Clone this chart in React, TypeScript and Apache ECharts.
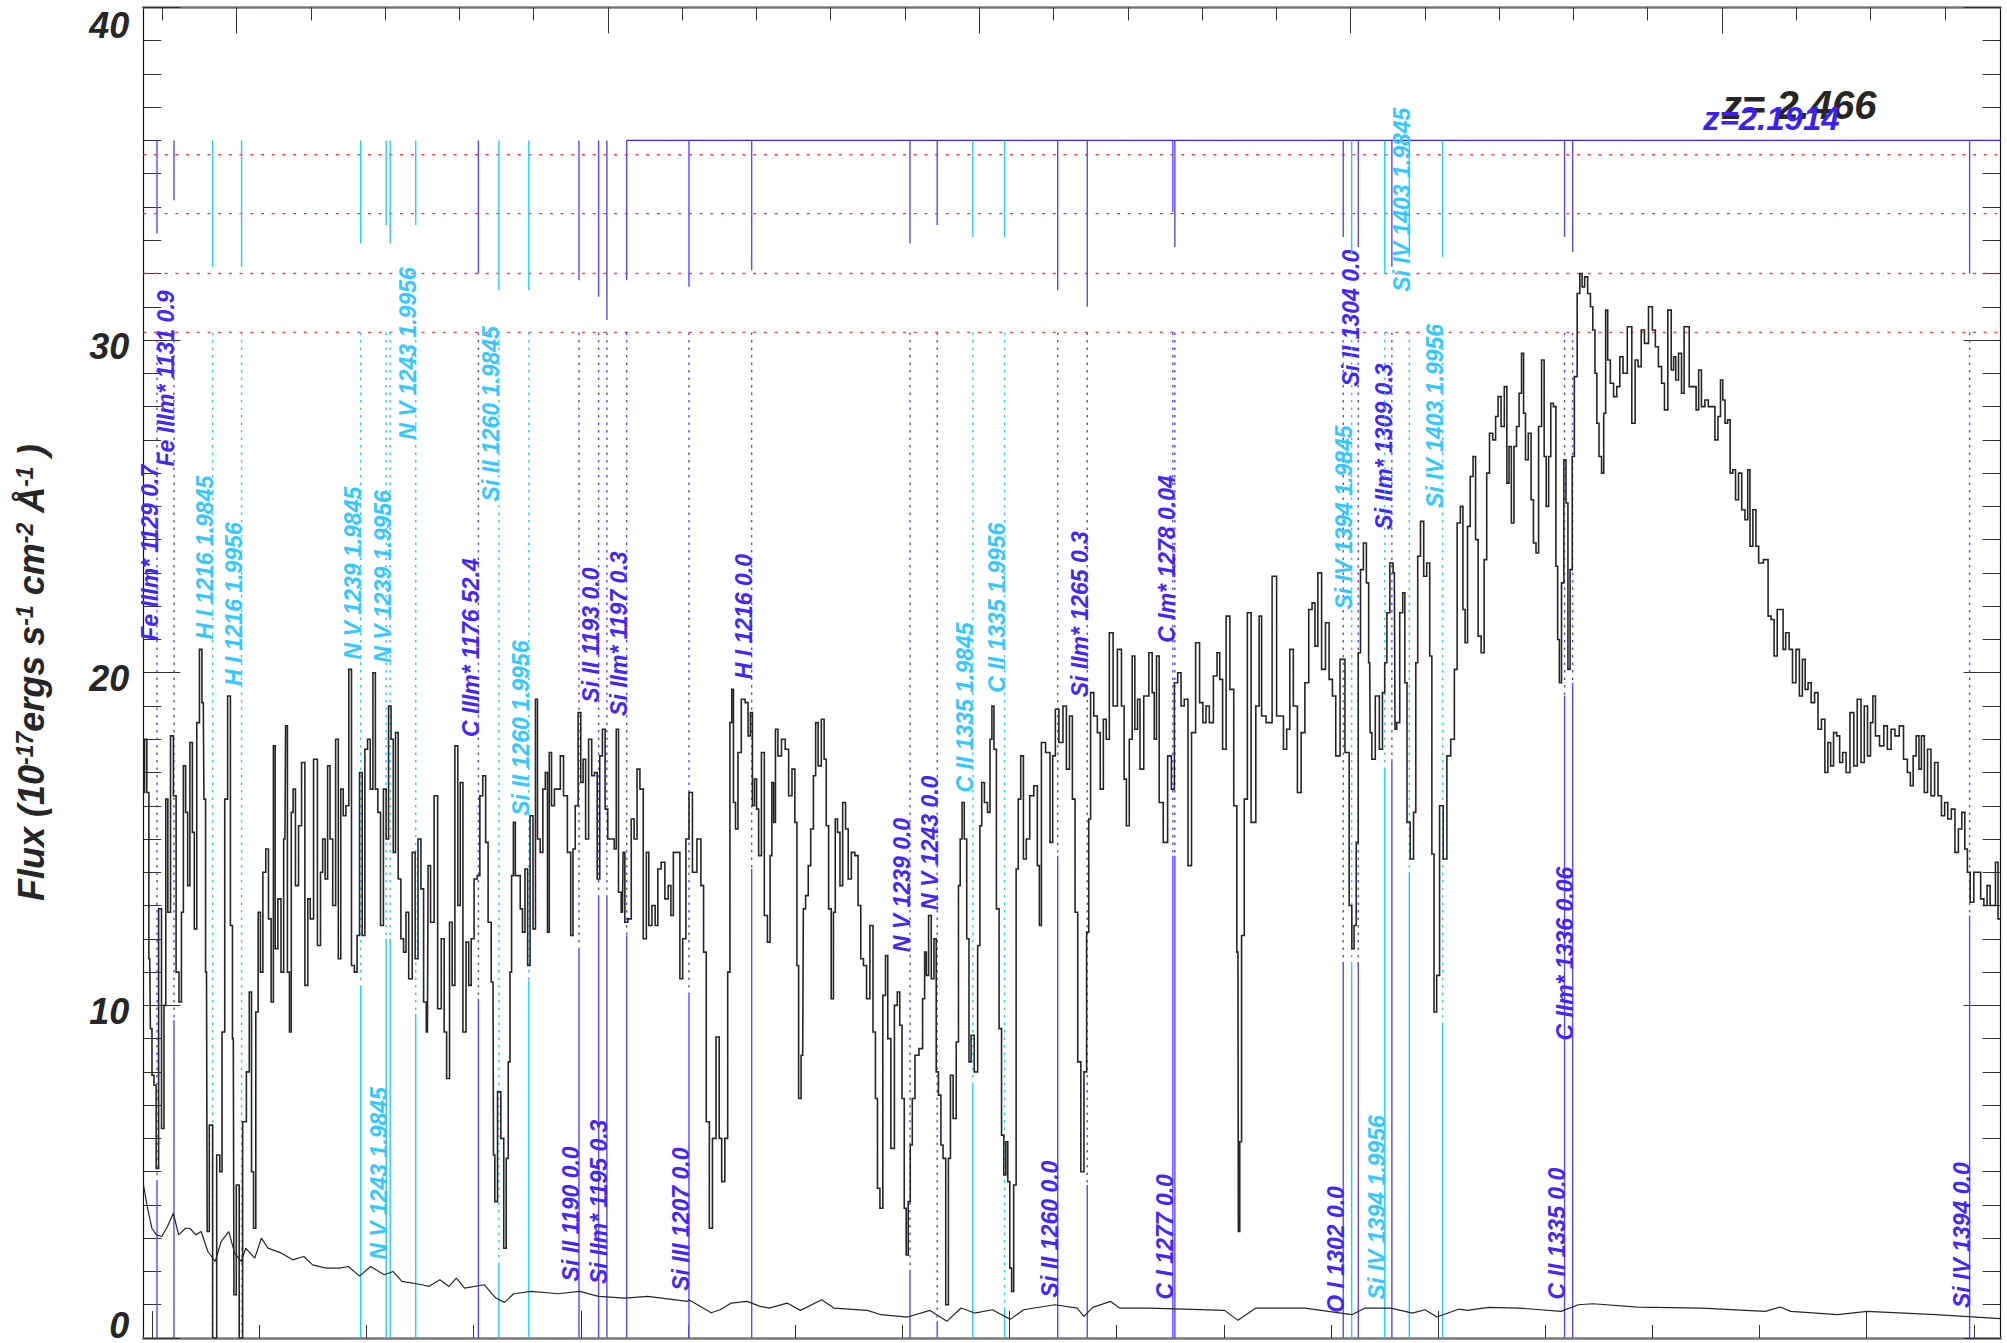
import React, { useEffect, useRef } from "react";
import * as echarts from "echarts";

const zBlue = 2.1914;
const zQso = 2.466;
const waveMin = 3595.8;
const waveMax = 4462.5;

const yTicks = [0, 10, 20, 30, 40];
const obsMajor = [3600, 3800, 4000, 4200, 4400];
const obsMinor = [3650, 3700, 3750, 3850, 3900, 3950, 4050, 4100, 4150, 4250, 4300, 4350, 4450];
const restMajor = [1050, 1100, 1150, 1200, 1250];
const restMinor = [1040, 1060, 1070, 1080, 1090, 1110, 1120, 1130, 1140, 1160, 1170, 1180, 1190, 1210, 1220, 1230, 1240, 1260, 1270, 1280];
const redLevels = [35.57, 33.8, 32.0, 30.23];
const topLevel = 36;

// [wavelength (A), flux]
const fluxA: number[][] = [
  [3595.9,16.4],[3596.9,18],[3598,16.4],[3598.8,11.4],[3599.4,9.3],[3600.3,7.9],[3601.3,7.6],[3602.3,5.1],[3603.6,12.9],[3605,6.3],[3605.9,10],[3606.7,16.2],[3607.8,12.8],[3609.2,18.1],[3610.5,16.3],[3611.7,11],[3613.2,10.1],[3614,12.8],[3615,17.2],[3616.1,15.8],[3616.9,13.6],[3618.2,17.9],[3619.2,15.2],[3620,12.3],[3621.5,18.5],[3622.5,20.7],[3623.8,19.1],[3624.4,16.2],[3625.3,11],[3625.9,3.2],[3627.3,6.4],[3629,0],[3631.1,5.5],[3631.9,5],[3633.2,9.2],[3634.4,16.2],[3635.9,19.3],[3637,12.4],[3637.8,9],[3638.4,1.3],[3640,4.6],[3641.1,0],[3643.2,6.5],[3644.6,8],[3645.9,10.4],[3646.7,5],[3647.8,3.3],[3648.8,9.8],[3650,12.8],[3650.9,11],[3652.3,14],[3653.6,14.7],[3654.8,12.6],[3656.1,10.1],[3656.9,17.8],[3657.8,11.7],[3659.4,13.2],[3660.7,11],[3661.9,15],[3662.5,18.4],[3663.6,11],[3664.4,9.2],[3665.3,15.8],[3666.1,16.5],[3667.5,13.6],[3669,15.4],[3670.3,17.3],[3672.1,10.6],[3673,13.2],[3674.4,12.6],[3676.1,17.4],[3678,11.8],[3679,14],[3680,15],[3681.3,13.8],[3682.3,17.2],[3683.6,15],[3684.8,13],[3686.3,18],[3687.3,11.4],[3688.6,16.5],[3689.6,15.7],[3691.1,16],[3692.3,20.1],[3693.6,11.2],[3695,11],[3696.1,12.1],[3697.3,17],[3698.6,12.1],[3699.8,17.7],[3701.1,18],[3702.3,16.5],[3703.6,20],[3704.6,16.5],[3705.9,15.8],[3707.1,12.4],[3708.6,16.5],[3709.6,15],[3710.9,19],[3711.9,18],[3713,14.6],[3714,18.2],[3715.5,13.8],[3716.5,12],[3718,11.6],[3718.8,12.8],[3720.5,10.8],[3722.1,14.6],[3723.2,11.4],[3724.8,15],[3725.9,13.5],[3727.3,10.1],[3728.4,9.2],[3729,14.2],[3730.7,12.5],[3732.3,16.3],[3734,9.9],[3735.7,12],[3736.7,9.2],[3738,7.8],[3739.4,12.5],[3740.5,10.6],[3741.9,17.8],[3743.2,13],[3744.2,16.7],[3745.7,9.2],[3747.1,11.9],[3748.2,10.6],[3749.4,12],[3750.9,13.8],[3752.3,13.9],[3753.4,16.3],[3755,16.9],[3756.1,14.9],[3757.3,12.5],[3759,10.7],[3759.4,5.5],[3760.3,4.1],[3761.9,7.4],[3763.4,6],[3764.6,2.7],[3765.7,5.4],[3766.5,8.3],[3767.3,11],[3768,13.9],[3769,15.5],[3769.8,13.9],[3771.1,13.9],[3772.3,12.9],[3773.2,12.2],[3774.6,14.1],[3775.7,11.2],[3776.9,15.7],[3778.4,12.3],[3779.2,19.2],[3780.3,15],[3781.7,14.6],[3782.8,16.5],[3784,17],[3784.8,12.2],[3785.7,17.6],[3786.9,16],[3788.4,16.5],[3789.8,16.5],[3791,17.5],[3792.8,16.3],[3794.6,14.6],[3795.9,12.1],[3796.7,14.7],[3798,16],[3799.4,18.8],[3800.5,16.7],[3801.6,17.4],[3802.8,15],[3804.4,18],[3805.7,16.9],[3807,17],[3808.2,13.8],[3809.4,17.5],[3810.7,18.3],[3811.9,15.9],[3813.2,15],[3815,15],[3816.1,14.7],[3816.9,18.3],[3818.2,13.4],[3819.4,12.8],[3820,14.6],[3821,12.5],[3822.8,12.6],[3824.2,15.6],[3825.5,15],[3826.9,17.1],[3828.2,16.5],[3830,12],[3831.1,14.6],[3832.3,12.4],[3834,13],[3835.3,12.4],[3836.5,14.1],[3838.4,14.3],[3840,13.2],[3841.5,13.6],[3842.5,12.7],[3843.8,14.6],[3845.7,14.6],[3846.7,10.8],
];
const fluxB: number[][] = [
  [3848.3,12],[3849.7,15],[3851.2,16.4],[3852.9,14],[3855.4,15],[3856.6,13.6],[3857.9,11.6],[3859.1,6.5],[3860.8,3.3],[3862,6],[3864.1,9.05],[3865,6],[3866.4,4.7],[3867.9,6],[3869.1,11],[3870,18.5],[3870.8,19.5],[3871.6,16.1],[3872.7,15.3],[3873.9,17.6],[3875.8,19.2],[3877.5,19.1],[3878.5,18.1],[3879.7,18.8],[3880.4,16],[3881.6,16.8],[3882.4,15.9],[3883.5,14.5],[3885,17.6],[3886.2,12.7],[3887.9,11.9],[3888.7,14.5],[3889.5,16.7],[3890.4,15.5],[3891.2,18.3],[3892.7,17.5],[3894.5,18],[3896.2,17.7],[3897.7,16.3],[3899.3,17.1],[3900.4,15.5],[3901.2,11.2],[3902,7.2],[3903.5,8.5],[3904.1,12.9],[3905.6,13.3],[3906.6,14.2],[3907.9,15.3],[3909.1,16.9],[3910,18.5],[3911.4,17.2],[3913,18.6],[3914,17.4],[3915,15.4],[3916.2,12.9],[3917.4,10.2],[3918.3,12.8],[3919.1,15.6],[3920.4,15.2],[3921.4,13.6],[3922.9,16.1],[3924.1,15.3],[3925.4,13.8],[3927,14.6],[3928.7,14.5],[3930,13],[3931.2,11.4],[3932.5,11.2],[3934.1,10.2],[3935.6,12.4],[3937,9.2],[3937.9,7.2],[3938.9,4.5],[3940.2,3.9],[3941.6,10.3],[3942.7,11.5],[3943.7,9],[3945.6,5.7],[3947,10],[3948.3,10.4],[3949.3,9.4],[3950.4,7.2],[3951.4,3.9],[3952.2,2.5],[3953.3,4.1],[3954.1,5.8],[3955.2,7.2],[3956.6,8.5],[3958.9,8.7],[3960,10.2],[3960.8,11.6],[3961.6,10.9],[3962.9,12.7],[3964.1,10.8],[3965.4,12],[3966.2,8],[3967.5,7.3],[3968.5,5.8],[3969.5,5.4],[3971,1],[3972,5.4],[3972.9,7.9],[3974.5,6.6],[3975.8,8.9],[3976.6,13.6],[3977.4,15],[3978.3,16.1],[3979.5,15],[3980.6,12],[3981.6,8.3],[3982.6,9.1],[3984.5,8],[3985.8,11.8],[3986.6,15.4],[3987.5,16.7],[3989.1,16.1],[3990.4,15.8],[3991.4,18],[3992.2,19],[3993.3,17.7],[3994.5,12.9],[3995.8,9.3],[3996.8,6.1],[3997.9,4.9],[3998.7,5.9],[3999.7,4.7],[4000.6,2.1],[4001.4,1.4],[4002.5,4.6],[4003.7,14.1],[4004.5,16.2],[4006,17.5],[4007,14.4],[4008.7,15],[4010.2,16.3],[4012.5,16.6],[4013.5,14.2],[4014.4,12.4],[4015.4,17.9],[4018.3,17.6],[4019.5,14.9],[4020.8,17.5],[4022,18.9],[4024.1,17.9],[4025.8,19],[4027.3,17.1],[4028.7,18.7],[4030,16.2],[4031.2,12.8],[4032.5,8.3],[4034.1,5],[4035.4,8],[4036.6,12.2],[4037.4,15.6],[4038.3,19.4],[4040.4,18.7],[4041.6,18.2],[4043.1,16.5],[4044.5,18.6],[4045.8,18],[4047.4,21.2],
  [4049.3,19],[4051.4,20.7],[4053.1,19],[4053.9,16.8],[4055.2,15.4],[4056.6,18],[4057.9,20.5],[4059.1,18.3],[4060.4,19.2],[4061.4,17.1],[4063.9,19.3],[4066.2,20.6],[4067,19.4],[4068.1,18],[4069.1,20.5],[4070.6,16.1],[4072.9,14.9],[4074.7,17.5],[4076.4,16.5],[4077.5,19.7],[4079.5,20],[4080.6,19],[4082.5,19.2],[4084.1,14.2],[4085.8,18.2],[4087.9,20.9],[4089.5,19.1],[4091,18.5],[4092.4,19],[4094.1,18.5],[4096.2,19.9],[4097.5,20.6],[4098.7,19.8],[4100.2,17.7],[4102,21.7],[4103.7,19.5],[4105.6,16],[4106.6,11.6],[4107,3.2],[4107.9,5.9],[4108.7,12.1],[4110.4,16.2],[4111.6,21.8],[4113.9,15.5],[4116,19],[4117,21.7],[4118.3,18.7],[4121.2,18.5],[4123.9,22.9],[4125.4,18.7],[4127,18.7],[4128.7,17.7],[4130,18.3],[4131.6,20.7],[4133.3,19],[4135.4,16.4],[4136.8,18.2],[4138.9,19.7],[4140.4,21.9],[4142,22.1],[4143.1,20.8],[4144.7,23],[4146.6,20.1],[4148.3,21.5],[4150,19.8],[4151.4,19.3],[4153.1,17.5],[4155.4,20.4],[4157.7,17.6],[4159.3,13],[4160.2,11.7],[4161.4,12.4],[4162.2,14.9],[4163.3,20.6],[4164.3,23.1],[4166,23.9],
];
const fluxC: number[][] = [
  [4167.1,22.7],[4168.1,20.3],[4168.5,18.2],[4169.7,17.4],[4171.7,19.3],[4173.5,17.7],[4174.6,19.4],[4175.6,20.3],[4176.6,21.8],[4178.4,23.3],[4179.6,23],[4180.2,18.3],[4181.2,18.5],[4183,21.8],[4184,22.4],[4185,19.7],[4186,15.5],[4188,14.4],[4189.1,15.8],[4190.1,20.3],[4190.9,23.5],[4192.7,24.55],[4193.9,22.9],[4195.5,23.3],[4196.7,20.5],[4197.5,14.55],[4198.7,9.8],[4200,10.9],[4201.4,16],[4203.4,14.4],[4204.8,17.5],[4207,18],[4208.2,20.1],[4209.6,24.5],[4211.2,25],[4212,21.9],[4213.2,20.9],[4214.3,24.4],[4215.7,25.9],[4216.9,26.5],[4218.1,24],[4219.3,21.1],[4220.9,20.6],[4222.1,23.4],[4223.3,26],[4224.7,27.2],[4226.3,27],[4227.4,27.7],[4228.6,28.3],[4230.2,27.4],[4231.6,28.6],[4232.6,25.7],[4233.6,26.8],[4234.8,24.5],[4236,26.8],[4237.2,27.4],[4238.4,28.4],[4239.5,29.6],[4240.3,27.8],[4241.3,26.4],[4242.9,27.2],[4243.9,25.2],[4245.1,23.9],[4246.3,23.6],[4247.5,27.4],[4249.1,29.4],[4249.9,26.5],[4251,25],[4252.2,26.5],[4253,28.1],[4254.6,28],[4255.4,23.2],[4256.2,21],[4257,19.7],[4258.2,22.7],[4259.2,26.4],[4260.2,25.1],[4261,20.1],[4262.2,23.1],[4263,26.5],[4264.2,28.9],[4265.6,31.4],[4266.7,32],[4267.7,31.6],[4269.1,31.9],[4270.5,31.4],[4271.7,31],[4272.7,30.3],[4273.7,29],[4274.5,27.5],[4275.7,26.5],[4276.9,26],[4277.7,27.8],[4278.7,30.9],[4279.6,29.4],[4281.2,28.7],[4282.6,28.3],[4284.2,28.6],[4285.4,29.5],[4287.2,29],[4289.4,30.4],[4291.4,27.5],[4292.5,29.4],[4294.1,29.2],[4295.5,30.3],[4297.1,29.9],[4299.3,31],[4300.7,30.3],[4302.1,29.8],[4303.5,29.2],[4305.1,28.7],[4306.2,27.9],[4308.2,30.9],[4309.4,29.1],[4310.4,29.5],[4311.4,28.8],[4313,29.6],[4314.2,28.4],[4315.4,30.4],[4316.6,30.4],[4317.8,28.6],[4319.7,28.6],[4321.1,27.9],[4322.1,29.1],[4323.7,28],[4325.3,28.2],[4326.9,28],[4328.5,28],[4329.9,27],[4331.3,27.7],[4332.3,28.8],[4333.4,28.2],[4334.4,27.5],[4335.8,27.6],[4336.8,26],[4338.2,26.1],[4339.4,25.2],[4341,26],[4342.4,24.9],[4344,24.6],[4345,26.1],[4346.1,23.8],[4347.7,24.9],[4348.9,23.8],[4350.3,23.3],[4353.3,23.4],[4354.7,21.7],[4356.1,21.6],[4357.5,20.5],[4359,21.9],[4360.6,21.9],[4361.4,20.7],[4363,21.2],[4364.6,20.7],[4366.2,19.7],[4367.8,20.7],[4369.4,19.3],[4370.6,20.4],[4372,19.5],[4373.3,19.7],[4374.9,19.1],[4376.5,19.4],[4378.1,18.3],[4379.7,18.6],[4381.3,17],[4382.5,17.9],[4383.9,17.2],[4385.2,18.2],[4386.8,18.1],[4388,17.3],[4389.6,17.6],[4391.2,17],[4393.2,18.8],[4394.8,17.2],[4396.4,19.2],[4398.3,17.3],[4399.5,19],[4401.3,17.5],[4402.3,18.5],[4403.5,19.3],[4404.7,18.1],[4407.3,17.8],[4408.7,18.4],[4410.6,17.7],[4412.2,18.3],[4414.2,18.1],[4416.2,18.4],[4418.2,17.4],[4419.8,17],[4421,16.6],[4422.4,17.5],[4423.8,18.1],[4425,17.1],[4426.1,18.1],[4427.7,16.4],[4429.1,17.7],[4430.9,16.3],[4432.5,17.3],[4434.1,16.3],[4435.7,15.7],[4437.1,16.1],[4438.6,15.6],[4440.4,15.9],[4442,14.6],[4443.6,15.3],[4445.2,15.8],[4446.4,14.7],[4447.6,14],[4449,13.1],[4451,14],[4452.5,14],[4453.9,13.2],[4455.5,13],[4456.9,13.6],[4458.3,13],[4459.5,13],[4460.7,14.3],[4461.9,12.6],[4462.5,12.6],
];
const errorSpec: number[][] = [
  [3595.9,4.6],[3597.8,3.9],[3599.8,3.3],[3601.9,3.1],[3604.4,3.05],[3607.1,3.35],[3609.8,3.75],[3612.3,3.1],[3615.5,3.3],[3617.5,3.3],[3620.3,3.1],[3622.8,3.2],[3625.9,2.6],[3629.4,2.3],[3632.1,2.9],[3635.7,3.2],[3638.4,2.55],[3641.5,2.3],[3643.6,2.7],[3647.8,2.4],[3650.9,3],[3654,2.7],[3660.3,2.55],[3665.5,2.35],[3670.7,2.45],[3674.8,2.2],[3681.1,2.1],[3687.3,2.1],[3691.5,2.15],[3696.7,1.86],[3701.9,2.15],[3708.2,1.9],[3712.3,2],[3716.5,1.7],[3725.9,1.6],[3729,1.55],[3734.2,1.75],[3738.4,1.55],[3741.9,1.8],[3745.7,1.5],[3755,1.6],[3760.3,1.2],[3764.4,1.07],[3768.6,1.33],[3776.9,1.4],[3789.4,1.33],[3799.4,1.4],[3808.2,1.25],[3820.7,1.2],[3831.1,1.25],[3849.8,1.1],
  [3850.4,1.15],[3860.8,0.76],[3865,0.85],[3870.2,1.05],[3877.5,1.1],[3883.7,0.95],[3887.9,0.9],[3896.2,1.05],[3902.4,0.83],[3912.4,1.15],[3918.1,0.9],[3933.7,0.83],[3940,0.7],[3952.5,0.63],[3962.9,0.83],[3970.8,0.5],[3977.4,0.9],[3983.7,0.75],[3992,0.85],[4000.4,0.56],[4006.6,0.85],[4021.2,1],[4031.6,0.9],[4034.7,0.65],[4038.9,0.92],[4047.2,1.1],[4051.4,0.9],[4065,0.9],[4081.6,0.87],[4100.4,0.83],[4106.6,0.53],[4115,0.9],[4137.9,0.9],[4159.7,0.7],[4166,0.9],
  [4178,0.9],[4188,0.75],[4193.9,0.85],[4199.5,0.63],[4209.8,0.87],[4213.7,0.83],[4223.7,0.92],[4237.6,0.9],[4257.4,0.8],[4265.4,1],[4272.3,1.03],[4293.1,0.93],[4322.9,0.9],[4352.7,0.8],[4359.6,0.93],[4364.6,0.8],[4386.4,0.7],[4400.3,0.8],[4432.1,0.7],[4462.5,0.58],
];

// [ion, rest wavelength, label rest, redshift, strength tag, top tick end, lower tick top, label base]
type Row = [string, number, string, number, string, number, number, number];
const lineRows: Row[] = [
  ["Fe IIIm*", 1128.72, "1129", zBlue, "0.7", 33.2, 4.7, 20.96],
  ["Fe IIIm*", 1131.2, "1131", zBlue, "0.9", 34.2, 9.55, 26.2],
  ["C IIIm*", 1175.71, "1176", zBlue, "52.4", 32, 10.2, 18.07],
  ["Si II", 1190.42, "1190", zBlue, "0.0", 31.8, 11.7, 1.7],
  ["Si II", 1193.29, "1193", zBlue, "0.0", 31.3, 13.3, 19.1],
  ["Si IIm*", 1194.5, "1195", zBlue, "0.3", 30.6, 13.3, 1.62],
  ["Si IIm*", 1197.39, "1197", zBlue, "0.3", 31.8, 12.1, 18.7],
  ["Si III", 1206.5, "1207", zBlue, "0.0", 31.6, 10.3, 1.42],
  ["H I", 1215.67, "1216", zBlue, "0.0", 32.1, 14.1, 19.8],
  ["N V", 1238.82, "1239", zBlue, "0.0", 32.9, 2.05, 11.6],
  ["N V", 1242.8, "1243", zBlue, "0.0", 33.46, 0.5, 12.87],
  ["Si II", 1260.42, "1260", zBlue, "0.0", 31.5, 14.5, 1.22],
  ["Si IIm*", 1264.74, "1265", zBlue, "0.3", 31, 4.6, 19.26],
  ["C I", 1277.25, "1277", zBlue, "0.0", 33.86, 14.5, 1.16],
  ["C Im*", 1277.55, "1278", zBlue, "0.04", 32.8, 14.5, 20.9],
  ["O I", 1302.17, "1302", zBlue, "0.0", 33.1, 11.3, 0.76],
  ["Si II", 1304.37, "1304", zBlue, "0.0", 32.8, 11.3, 28.6],
  ["Si IIm*", 1309.28, "1309", zBlue, "0.3", 32.2, 17.4, 24.3],
  ["C II", 1334.53, "1335", zBlue, "0.0", 33.1, 19.3, 1.16],
  ["C IIm*", 1335.71, "1336", zBlue, "0.06", 32.65, 19.7, 8.94],
  ["Si IV", 1393.76, "1394", zBlue, "0.0", 32, 12.7, 0.9],
  ["H I", 1215.67, "1216", 1.9845, "1.9845", 32.2, 0, 21],
  ["H I", 1215.67, "1216", 1.9956, "1.9956", 32.2, 0, 19.6],
  ["N V", 1238.82, "1239", 1.9845, "1.9845", 32.9, 10.6, 20.4],
  ["N V", 1238.82, "1239", 1.9956, "1.9956", 32.9, 12, 20.3],
  ["N V", 1242.8, "1243", 1.9845, "1.9845", 33.46, 12, 2.35],
  ["N V", 1242.8, "1243", 1.9956, "1.9956", 33.46, 9.74, 27],
  ["Si II", 1260.42, "1260", 1.9845, "1.9845", 31.5, 2.26, 25.15],
  ["Si II", 1260.42, "1260", 1.9956, "1.9956", 31.5, 10.75, 15.7],
  ["C II", 1334.53, "1335", 1.9845, "1.9845", 33.1, 7.65, 16.4],
  ["C II", 1334.53, "1335", 1.9956, "1.9956", 33.1, 0.93, 19.4],
  ["Si IV", 1393.76, "1394", 1.9845, "1.9845", 32.6, 11.3, 21.9],
  ["Si IV", 1393.76, "1394", 1.9956, "1.9956", 32, 17.15, 1.16],
  ["Si IV", 1402.77, "1403", 1.9845, "1.9845", 32.5, 14, 31.45],
  ["Si IV", 1402.77, "1403", 1.9956, "1.9956", 32.5, 9.4, 24.95],
];

const BLUE = "#5f45ff";
const BLUE_TEXT = "#4326f8";
const CYAN = "#2cc6fb";
const CYAN_TEXT = "#35c8ff";
const FONT = "'Liberation Sans', Arial, sans-serif";
const labelFont = `italic bold 23px ${FONT}`;

function renderMarker(params: any, api: any) {
  const row = lineRows[params.dataIndex];
  const [ion, rest, restLabel, z, tag, topEnd, lowTop, labelBase] = row;
  const wave = rest * (1 + z);
  const blue = z === zBlue;
  const stroke = blue ? BLUE : CYAN;
  const p = (v: number) => api.coord([wave, v]);
  const seg = (a: number, b: number, dash?: number[], w = 1.4) => ({
    type: "line",
    silent: true,
    shape: { x1: p(a)[0], y1: p(a)[1], x2: p(b)[0], y2: p(b)[1] },
    style: { stroke, lineWidth: w, lineDash: dash, fill: null },
  });
  const children: any[] = [seg(topLevel, topEnd), seg(redLevels[3], lowTop, [2.5, 5]), seg(lowTop, 0)];
  const base = p(labelBase);
  children.push({
    type: "text",
    silent: true,
    x: base[0] + 4,
    y: base[1],
    rotation: Math.PI / 2,
    style: {
      text: `${ion} ${restLabel} ${tag}`,
      font: labelFont,
      fill: blue ? BLUE_TEXT : CYAN_TEXT,
      align: "left",
      verticalAlign: "bottom",
    },
  });
  return { type: "group", children };
}

function renderNote(params: any, api: any) {
  const pos = api.coord([api.value(0), api.value(1)]);
  const first = params.dataIndex === 0;
  return {
    type: "text",
    silent: true,
    x: pos[0],
    y: pos[1],
    style: {
      text: first ? `z= ${zQso}` : `z=${zBlue}`,
      font: first ? `italic bold 40px ${FONT}` : `italic bold 33px ${FONT}`,
      fill: first ? "#262626" : "#3d1ff2",
      align: "left",
      verticalAlign: "middle",
    },
  };
}

export default function App() {
  const ref = useRef<HTMLDivElement>(null);
  useEffect(() => {
    const chart = echarts.init(ref.current!, undefined, { renderer: "svg" });
    const grid = { left: 143.3, top: 7.4, width: 1857.3, height: 1333.2 };
    const xBase = { type: "value", min: waveMin, max: waveMax, splitLine: { show: false }, axisLabel: { show: false } };
    const xTop = { ...xBase, position: "top", min: waveMin / (1 + zQso), max: waveMax / (1 + zQso) };
    const tick = "#333333";
    const fluxData = [...fluxA, ...fluxB, ...fluxC];
    const tickFont = { fontFamily: FONT, fontSize: 36, fontWeight: "bold", fontStyle: "italic", color: "#262626" };
    chart.setOption({
      animation: false,
      backgroundColor: "#ffffff",
      grid,
      xAxis: [
        { ...xBase, position: "bottom", axisLine: { show: true, lineStyle: { color: "#777777", width: 2.5 } }, axisTick: { show: true, inside: true, length: 27, customValues: obsMajor, lineStyle: { color: tick } } },
        { ...xBase, position: "bottom", axisLine: { show: false }, axisTick: { show: true, inside: true, length: 13, customValues: obsMinor, lineStyle: { color: tick } } },
        { ...xTop, axisLine: { show: true, lineStyle: { color: "#777777", width: 2.5 } }, axisTick: { show: true, inside: true, length: 26, customValues: restMajor, lineStyle: { color: tick } } },
        { ...xTop, axisLine: { show: false }, axisTick: { show: true, inside: true, length: 13, customValues: restMinor, lineStyle: { color: tick } } },
      ],
      yAxis: [
        {
          type: "value", min: 0, max: 40, interval: 10, position: "left",
          splitLine: { show: false },
          axisLine: { show: true, lineStyle: { color: "#111111", width: 1.2 } },
          axisTick: { show: true, inside: true, length: 37, lineStyle: { color: tick } },
          minorTick: { show: true, splitNumber: 10, length: 18, lineStyle: { color: tick } },
          axisLabel: {
            show: true, margin: 14, ...tickFont,
            customValues: yTicks, verticalAlignMinLabel: "bottom", verticalAlignMaxLabel: "top",
            formatter: (v: number) => (v === 40 ? `{e|${v}}` : v === 0 ? `{z|${v}}` : `{m|${v}}`),
            rich: {
              e: { ...tickFont },
              z: { ...tickFont, lineHeight: 26 },
              m: { ...tickFont, padding: [12, 0, 0, 0] },
            },
          },
          name: "Flux (10{s|-17}ergs s{s|-1} cm{s|-2} Å{s|-1} )",
          nameLocation: "middle", nameRotate: 90, nameGap: 94,
          nameTextStyle: {
            color: "#262626", fontFamily: FONT, fontSize: 36, fontWeight: "bold", fontStyle: "italic",
            rich: { s: { fontFamily: FONT, fontSize: 23, fontWeight: "bold", fontStyle: "italic", color: "#262626", verticalAlign: "top" } },
          },
        },
        {
          type: "value", min: 0, max: 40, interval: 10, position: "right",
          splitLine: { show: false },
          axisLine: { show: true, lineStyle: { color: "#111111", width: 1.2 } },
          axisTick: { show: true, inside: true, length: 37, lineStyle: { color: tick } },
          minorTick: { show: true, splitNumber: 10, length: 18, lineStyle: { color: tick } },
          axisLabel: { show: false },
        },
      ],
      series: [
        ...redLevels.map((v, i) => ({
          type: "line", silent: true, showSymbol: false, z: 1,
          lineStyle: { color: "#ff2a2a", width: 1.3, type: [3, 7.7], opacity: i === 1 ? 1 : 0.9 },
          data: [[waveMin, v], [waveMax, v]],
        })),
        {
          type: "line", silent: true, showSymbol: false, z: 2,
          lineStyle: { color: "#3a20ff", width: 1.2 },
          data: [[lineRows[6][1] * (1 + zBlue), topLevel], [waveMax, topLevel]],
        },
        {
          type: "custom", silent: true, z: 3, clip: false,
          renderItem: renderMarker,
          data: lineRows.map((r) => [r[1] * (1 + r[3]), r[7]]),
          encode: { x: 0, y: 1 },
        },
        {
          type: "line", silent: true, showSymbol: false, step: "middle", z: 4,
          lineStyle: { color: "#262626", width: 1.6, join: "miter" },
          data: fluxData,
        },
        {
          type: "line", silent: true, showSymbol: false, z: 4,
          lineStyle: { color: "#262626", width: 1.2 },
          data: errorSpec,
        },
        {
          type: "custom", silent: true, z: 5, clip: false,
          renderItem: renderNote,
          data: [[4332.5, 37.07], [4323.6, 36.65]],
          encode: { x: 0, y: 1 },
        },
      ],
    });
    return () => chart.dispose();
  }, []);
  return <div ref={ref} style={{ position: "fixed", left: 0, top: 0, width: 2007, height: 1343, background: "#fff" }} />;
}
